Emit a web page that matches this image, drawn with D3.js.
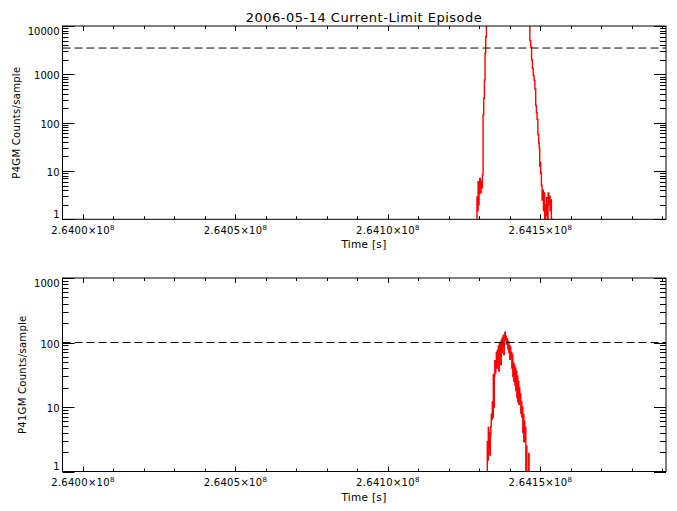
<!DOCTYPE html>
<html><head><meta charset="utf-8">
<script src="https://cdn.jsdelivr.net/npm/d3@7"></script>
<style>
body{margin:0;background:#fff}
svg{display:block}
text{font-family:"DejaVu Sans",sans-serif;fill:#000}
</style>
</head><body>
<svg id="c" width="677" height="511"></svg>
<script>
// ---------- data ----------
const chartTitle = "2006-05-14 Current-Limit Episode";
const xTitle = "Time [s]";
const yTitles = ["P4GM Counts/sample", "P41GM Counts/sample"];
const xDomain = [263993300, 264191200];
const xTickMantissa = ["2.6400", "2.6405", "2.6410", "2.6415"];
const xTickExponent = "8";
const topYDomain = [1, 10000];
const botYDomain = [1, 1000];
const topYTickLabels = ["1", "10", "100", "1000", "10000"];
const botYTickLabels = ["1", "10", "100", "1000"];
const topThreshold = 3500;
const botThreshold = 100;

const p4gmTime = [264129083,264129346,264129500,264129674,264129805,264130000,264130230,264130460,264130656,264130886,
  264131115,264131312,264131541,264131771,264131968,264132197,264132427,264136787,264141703,264146132,
  264146395,264146723,264146953,264147281,264147510,264147838,264148035,264148363,264148592,264148822,
  264149019,264149347,264149576,264149675,264149904,264150003,264150232,264150462,264150659,264150888,
  264151118,264151315,264151544,264151774,264151971,264152200,264152430,264152627,264152856,264153086,
  264153282,264153512,264153742,264153939];
const p4gmCounts = [0.5,2.9,1.5,6,2,5,7,3.5,6,4.5,
  8.3,144,320,765,2750,6000,20000,40000,50000,30000,
  10500,5000,3700,2000,1320,950,750,500,225,160,
  118,57,38,30,12.5,15,9,5,2.5,4,
  1.5,3.5,0.8,2,1.2,2.8,1,3.5,2,3,
  1.5,2.5,1,0.5];

const p41gmTime = [264132520,264132684,264132848,264133012,264133176,264133340,264133504,264133668,264133832,264133996,
  264134160,264134324,264134488,264134652,264134816,264134980,264135144,264135308,264135472,264135636,
  264135800,264135964,264136128,264136292,264136456,264136620,264136784,264136948,264137112,264137276,
  264137440,264137604,264137768,264137932,264138096,264138260,264138424,264138588,264138752,264138916,
  264139080,264139244,264139408,264139572,264139736,264139900,264140064,264140228,264140392,264140556,
  264140720,264140884,264141048,264141212,264141376,264141540,264141704,264141868,264142032,264142196,
  264142360,264142524,264142688,264142852,264143016,264143180,264143344,264143508,264143672,264143836,
  264144000,264144164,264144328,264144492,264144656,264144820,264144984,264145148,264145312,264145476,
  264145640,264146100,264146230,264146360];
const p41gmCounts = [0.5,2.9,1.5,4.8,2.2,4,1.8,3.5,5,7.7,
  6.5,12,7,32,10,30,52,34,45,70,
  40,75,55,88,36,95,60,100,45,110,
  70,120,85,130,65,125,145,110,125,95,
  115,100,80,105,70,90,55,85,60,70,
  40,65,30,48,25,45,22,40,18,36,
  14,30,12,25,11,20,12,16,8,12,
  7,10,4,7.7,2.9,6,3,4.8,1,2.5,
  0.5,0.5,1.9,0.5];

// ---------- drawing ----------
const svg = d3.select("#c");
const X0 = 62.5, X1 = 666;
const x = d3.scaleLinear().domain(xDomain).range([X0, X1]);

svg.append("text").attr("x", 364).attr("y", 21.5).attr("text-anchor", "middle")
  .style("font-size", "13px").style("letter-spacing", "0.5px").text(chartTitle);

function panel(idx, top, bottom, yDomain, yLabels, times, counts, thr, yTitle, yTitleX) {
  const y = d3.scaleLog().domain(yDomain).range([bottom, top]);
  const g = svg.append("g");
  const clipId = "clip" + idx;
  g.append("clipPath").attr("id", clipId).append("rect")
    .attr("x", X0).attr("y", top).attr("width", X1 - X0).attr("height", bottom - top);

  // data
  const data = times.map((t, i) => [t, counts[i]]);
  const line = d3.line().x(d => x(d[0])).y(d => y(d[1])).curve(d3.curveStep);
  g.append("path").datum(data).attr("d", line).attr("clip-path", `url(#${clipId})`)
    .attr("fill", "none").attr("stroke", "#ff0000").attr("stroke-width", 1.4);

  // threshold
  g.append("line").attr("x1", X0).attr("x2", X1).attr("y1", y(thr)).attr("y2", y(thr))
    .attr("stroke", "#000").attr("stroke-width", 1).attr("stroke-dasharray", "8,4");

  // frame
  g.append("rect").attr("x", X0).attr("y", top).attr("width", X1 - X0).attr("height", bottom - top)
    .attr("fill", "none").attr("stroke", "#000").attr("stroke-width", 1);

  // x ticks
  const minorX = x.ticks(20);
  const majorX = x.ticks(4);
  const majSet = new Set(majorX);
  minorX.forEach(t => {
    const len = majSet.has(t) ? 5 : 3;
    const px = Math.round(x(t)) + 0.5;
    g.append("line").attr("x1", px).attr("x2", px).attr("y1", bottom).attr("y2", bottom - len).attr("stroke", "#000");
    g.append("line").attr("x1", px).attr("x2", px).attr("y1", top).attr("y2", top + len).attr("stroke", "#000");
  });
  majorX.forEach((t, i) => {
    const tx = g.append("text").attr("x", x(t)).attr("y", bottom + 14.5).attr("text-anchor", "middle")
      .style("font-size", "10px").style("letter-spacing", "0.3px");
    tx.append("tspan").text(xTickMantissa[i] + "\u00d710");
    tx.append("tspan").attr("dy", -4).style("font-size", "7px").text(xTickExponent);
  });
  svg.append("text").attr("x", 364).attr("y", bottom + 29).attr("text-anchor", "middle")
    .style("font-size", "10.5px").style("letter-spacing", "0.3px").text(xTitle);

  // y ticks
  const yt = y.ticks();
  yt.forEach(t => {
    const lg = Math.log10(t);
    const major = Math.abs(lg - Math.round(lg)) < 1e-9;
    const len = major ? 12 : 6;
    const py = Math.round(y(t)) + 0.5;
    g.append("line").attr("x1", X0).attr("x2", X0 + len).attr("y1", py).attr("y2", py).attr("stroke", "#000");
    g.append("line").attr("x1", X1).attr("x2", X1 - len).attr("y1", py).attr("y2", py).attr("stroke", "#000");
  });
  const majorY = yt.filter(t => { const lg = Math.log10(t); return Math.abs(lg - Math.round(lg)) < 1e-9; });
  majorY.forEach((t, i) => {
    let cy = y(t) + 1.5;
    cy = Math.max(top + 5, Math.min(bottom - 5, cy));
    g.append("text").attr("x", X0 - 3).attr("y", cy).attr("dy", "0.36em").attr("text-anchor", "end")
      .style("font-size", "10px").text(yLabels[i]);
  });
  svg.append("text").attr("transform", `translate(${yTitleX},${(top + bottom) / 2}) rotate(-90)`)
    .attr("text-anchor", "middle").attr("dy", "0.36em")
    .style("font-size", "10px").style("letter-spacing", "0.3px").text(yTitle);
}

panel(0, 26, 219.3, topYDomain, topYTickLabels, p4gmTime, p4gmCounts, topThreshold, yTitles[0], 16);
panel(1, 278, 471.5, botYDomain, botYTickLabels, p41gmTime, p41gmCounts, botThreshold, yTitles[1], 22);
</script>
</body></html>
